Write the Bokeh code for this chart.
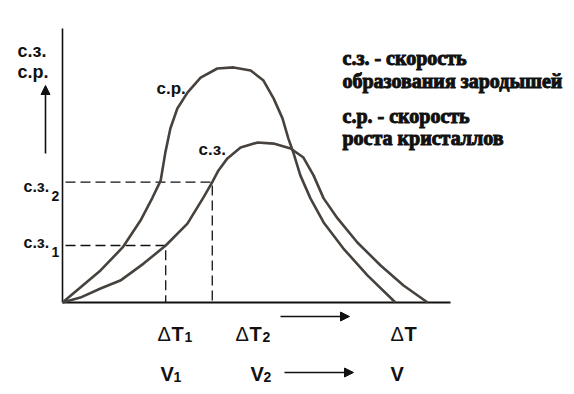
from bokeh.plotting import figure
from bokeh.models import Range1d, Arrow, NormalHead
from bokeh.core.properties import value
from bokeh.embed import file_html
from bokeh.resources import INLINE

# ---- data (undercooling ΔT in arbitrary units 0..100, rates in arbitrary units 0..100)
cr_x = [0, 4.6, 9.8, 15.5, 20.1, 23.2, 25.3, 25.9, 26.5, 27.8, 29.6, 32.2, 35.6, 39.9, 44.1,
        48.5, 51.8, 54.4, 56.7, 58.2, 59.5, 61.3, 63.9, 67.3, 72.4, 78.6, 85.8]
cr_y = [0, 5.5, 11.7, 20.1, 29.9, 38.3, 44.5, 49.6, 54.7, 63.5, 70.8, 76.6, 82.1, 85.4, 85.8,
        84.7, 81.0, 74.5, 67.2, 59.9, 54.7, 46.4, 38.0, 29.2, 19.7, 9.9, 0]
cz_x = [0, 4.6, 9.8, 14.9, 20.9, 26.6, 32.2, 36.3, 38.6, 40.2, 42.5, 45.9, 50.3, 54.4, 58.8,
        62.1, 64.7, 67.3, 70.9, 76.0, 82.0, 87.9, 94.1]
cz_y = [0, 1.8, 5.1, 8.0, 14.2, 20.8, 28.8, 38.3, 43.9, 48.2, 52.6, 56.6, 58.4, 58.0, 56.2,
        52.9, 46.4, 38.0, 30.7, 21.9, 13.5, 6.2, 0]
dT_levels = [26.6, 38.6]       # ΔT1, ΔT2
cz_levels = [20.8, 43.9]       # с.з.1, с.з.2
axis_x_max = 100
axis_y_max = 100

legend_lines = ["с.з. - скорость", "образования зародышей", "с.р. - скорость", "роста кристаллов"]

# ---- pixel helpers for layout (page px == frame px)
SX, SY = 3.88, 2.74     # px per data unit
OX, OY = 62, 302        # page px of origin
W, H = 570, 390

def X(px):
    return (px - OX) / SX

def Y(py):
    return (OY - py) / SY

p = figure(width=W, height=H, output_backend="svg", toolbar_location=None,
           x_range=Range1d(X(0), X(W)), y_range=Range1d(Y(H), Y(0)),
           min_border=0, min_border_left=0, min_border_right=0,
           min_border_top=0, min_border_bottom=0)
p.axis.visible = False
p.grid.visible = False
p.outline_line_color = None
p.background_fill_color = "white"
p.border_fill_color = "white"

CURVE = "#47423d"
INK = "#111111"

# axes
p.line([0, 0], [0, axis_y_max], line_color=INK, line_width=1.6)
p.line([0, axis_x_max], [0, 0], line_color=INK, line_width=2)

# dashed guides
for xv, yv in zip(dT_levels, cz_levels):
    p.line([0, xv, xv], [yv, yv, 0], line_color=INK, line_width=1.3, line_dash="10 5", line_dash_offset=-3)

# curves
p.line(cr_x, cr_y, line_color=CURVE, line_width=2.6, line_join="round")
p.line(cz_x, cz_y, line_color=CURVE, line_width=2.6, line_join="round")

# arrows
head = dict(size=9, fill_color=INK, line_color=INK)
p.add_layout(Arrow(end=NormalHead(**head), x_start=X(45), y_start=Y(153), x_end=X(45), y_end=Y(85),
                   line_color=INK, line_width=1.6))
p.add_layout(Arrow(end=NormalHead(**head), x_start=X(280), y_start=Y(316), x_end=X(349), y_end=Y(316),
                   line_color=INK, line_width=1.6))
p.add_layout(Arrow(end=NormalHead(**head), x_start=X(284), y_start=Y(372), x_end=X(353), y_end=Y(372),
                   line_color=INK, line_width=1.6))

def txt(xs, ys, texts, size, font="Liberation Sans", style="bold", align="left", color=INK, heavy=False):
    kw = dict(x=xs, y=ys, text=texts, text_font=value(font), text_font_size=size,
              text_font_style=style, text_align=align, text_baseline="middle", text_color=color)
    if heavy:
        try:
            p.text(text_outline_color=color, **kw)
            return
        except Exception:
            pass
    p.text(**kw)

# y-axis labels
txt([X(17), X(17)], [Y(50), Y(71)], ["с.з.", "с.р."], "18px")
txt([X(23), X(23)], [Y(186), Y(242)], ["с.з.", "с.з."], "16px")
txt([X(51), X(51)], [Y(195), Y(251)], ["2", "1"], "14px")

# curve labels
txt([X(156), X(198)], [Y(88), Y(149)], ["с.р.", "с.з."], "17px")

# x labels
txt([X(157), X(235), X(390)], [Y(333)] * 3, ["Δ", "Δ", "Δ"], "20px", style="normal")
txt([X(171), X(249), X(404)], [Y(333)] * 3, ["T", "T", "T"], "20px")
txt([X(184), X(262)], [Y(336)] * 2, ["1", "2"], "14px")
txt([X(160), X(250), X(390)], [Y(373)] * 3, ["V", "V", "V"], "20px")
txt([X(173), X(263)], [Y(376)] * 2, ["1", "2"], "14px")

# legend block
txt([X(342)] * 4, [Y(57), Y(80), Y(115), Y(137)], legend_lines, "20px",
    font="Liberation Sans Narrow", heavy=True)

open("out.html", "w").write(file_html(p, INLINE))
